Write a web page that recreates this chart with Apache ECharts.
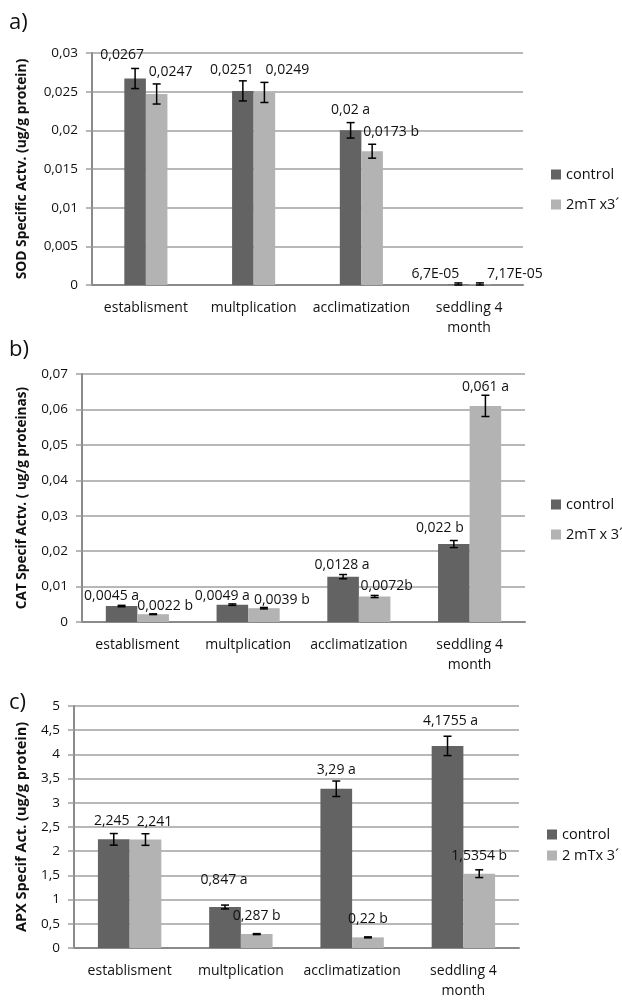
<!DOCTYPE html>
<html>
<head>
<meta charset="utf-8">
<script src="https://cdn.jsdelivr.net/npm/echarts@6/dist/echarts.min.js"></script>
<style>
html,body{margin:0;padding:0;background:#fff;}
#chart{width:622px;height:1001px;}
</style>
</head>
<body>
<div id="chart"></div>
<script>
// ---------------- DATA ----------------
const categories = ['establisment', 'multplication', 'acclimatization', 'seddling 4 month'];

// a) SOD
const sodControl = [0.0267, 0.0251, 0.02, 0.000067];
const sodTreated = [0.0247, 0.0249, 0.0173, 0.0000717];
const sodControlErr = [0.0013, 0.0013, 0.001, 0.0002];
const sodTreatedErr = [0.0013, 0.0013, 0.0009, 0.0002];
const sodControlLabels = ['0,0267', '0,0251', '0,02 a', '6,7E-05'];
const sodTreatedLabels = ['0,0247', '0,0249', '0,0173 b', '7,17E-05'];
const sodTicks = ['0', '0,005', '0,01', '0,015', '0,02', '0,025', '0,03'];

// b) CAT
const catControl = [0.0045, 0.0049, 0.0128, 0.022];
const catTreated = [0.0022, 0.0039, 0.0072, 0.061];
const catControlErr = [0.0002, 0.0002, 0.0006, 0.001];
const catTreatedErr = [0.0001, 0.0002, 0.0003, 0.003];
const catControlLabels = ['0,0045 a', '0,0049 a', '0,0128 a', '0,022 b'];
const catTreatedLabels = ['0,0022 b', '0,0039 b', '0,0072b', '0,061 a'];
const catTicks = ['0', '0,01', '0,02', '0,03', '0,04', '0,05', '0,06', '0,07'];

// c) APX
const apxControl = [2.245, 0.847, 3.29, 4.1755];
const apxTreated = [2.241, 0.287, 0.22, 1.5354];
const apxControlErr = [0.12, 0.04, 0.16, 0.2];
const apxTreatedErr = [0.12, 0.01, 0.01, 0.08];
const apxControlLabels = ['2,245', '0,847 a', '3,29 a', '4,1755 a'];
const apxTreatedLabels = ['2,241', '0,287 b', '0,22 b', '1,5354 b'];
const apxTicks = ['0', '0,5', '1', '1,5', '2', '2,5', '3', '3,5', '4', '4,5', '5'];

const seriesNames = [
  ['control', '2mT x3\u00B4'],
  ['control', '2mT x 3\u00B4'],
  ['control', '2 mTx 3\u00B4']
];
const axisTitles = [
  'SOD Specific Actv. (ug/g protein)',
  'CAT Specif Actv. ( ug/g proteinas)',
  'APX Specif Act. (ug/g protein)'
];
const panelLetters = ['a)', 'b)', 'c)'];

// ---------------- LAYOUT / STYLE ----------------
const FONT = '"Open Sans", sans-serif';
const TXT = '#111';
const COL_CONTROL = '#636363';
const COL_TREATED = '#b3b3b3';
const GRID_COL = '#a0a0a0';

const panels = [
  {
    grid: {left: 92, top: 53, width: 431, height: 232},
    max: 0.03, interval: 0.005, ticks: sodTicks,
    control: sodControl, treated: sodTreated,
    cErr: sodControlErr, tErr: sodTreatedErr,
    cLab: sodControlLabels, tLab: sodTreatedLabels,
    gapPct: 60, nameGap: 63, titleSize: 13.8,
    cShift: [[-13, -23.5], [-11, -21], [0, -20], [-23, -10]],
    tShift: [[14, -22], [23, -22.5], [19, -19], [35, -10]],
    legendTop: 167, legendLeft: 551, legendGap: 15,
    letterTop: 12
  },
  {
    grid: {left: 82, top: 374, width: 443, height: 248},
    max: 0.07, interval: 0.01, ticks: catTicks,
    control: catControl, treated: catTreated,
    cErr: catControlErr, tErr: catTreatedErr,
    cLab: catControlLabels, tLab: catTreatedLabels,
    gapPct: 43, nameGap: 53, titleSize: 13.6,
    cShift: [[-10, -10], [-10, -9], [-1, -12], [-14, -16]],
    tShift: [[12, -8], [18, -8], [12, -10], [0, -19]],
    legendTop: 497, legendLeft: 551, legendGap: 15,
    letterTop: 339
  },
  {
    grid: {left: 74, top: 706, width: 445, height: 245},
    max: 5, interval: 0.5, ticks: apxTicks,
    control: apxControl, treated: apxTreated,
    cErr: apxControlErr, tErr: apxTreatedErr,
    cLab: apxControlLabels, tLab: apxTreatedLabels,
    gapPct: 43, nameGap: 45, titleSize: 14.5,
    cShift: [[-2, -18], [-1, -27], [0, -19], [3, -25]],
    tShift: [[9, -18], [0, -18], [0, -18.5], [0, -18]],
    legendTop: 827, legendLeft: 547, legendGap: 6,
    letterTop: 692
  }
];

const option = {
  animation: false,
  backgroundColor: '#fff',
  textStyle: {fontFamily: FONT},
  title: [],
  legend: [],
  grid: [],
  xAxis: [],
  yAxis: [],
  series: []
};

function errorSeries(p, idx, vals, errs, sideSign) {
  const barFrac = (1 - p.gapPct / 100) / 2;
  const shift = sideSign * barFrac / 2;
  return {
    type: 'custom',
    xAxisIndex: idx, yAxisIndex: idx,
    z: 5,
    silent: true,
    data: vals.map((v, i) => [i, v, errs[i]]),
    encode: {x: 0, y: 1},
    renderItem: function (params, api) {
      const i = api.value(0), v = api.value(1), e = api.value(2);
      const band = api.size([1, 0])[0];
      const x = api.coord([i, v])[0] + shift * band;
      const yT = api.coord([i, v + e])[1];
      const yB = api.coord([i, Math.max(0, v - e)])[1];
      const hw = 4;
      const st = {stroke: '#000', lineWidth: 1.5};
      return {
        type: 'group',
        children: [
          {type: 'line', shape: {x1: x, y1: yT, x2: x, y2: yB}, style: st},
          {type: 'line', shape: {x1: x - hw, y1: yT, x2: x + hw, y2: yT}, style: st},
          {type: 'line', shape: {x1: x - hw, y1: yB, x2: x + hw, y2: yB}, style: st}
        ]
      };
    }
  };
}

function barSeries(p, idx, name, vals, labels, shifts, color) {
  return {
    type: 'bar',
    name: name,
    xAxisIndex: idx, yAxisIndex: idx,
    barGap: '0%',
    barCategoryGap: p.gapPct + '%',
    itemStyle: {color: color},
    z: 2,
    data: vals.map((v, i) => ({
      value: v,
      label: {offset: shifts[i]}
    })),
    label: {
      show: true,
      position: 'top',
      distance: 0,
      align: 'center',
      verticalAlign: 'middle',
      fontFamily: FONT,
      fontSize: 14,
      color: TXT,
      formatter: (prm) => labels[prm.dataIndex]
    }
  };
}

panels.forEach((p, idx) => {
  option.title.push({
    text: panelLetters[idx], left: 9, top: p.letterTop, padding: 0,
    textStyle: {fontFamily: FONT, fontSize: 22, fontWeight: 'normal', color: TXT}
  });
  option.grid.push(Object.assign({containLabel: false}, p.grid));
  option.xAxis.push({
    type: 'category', gridIndex: idx, data: categories,
    axisLine: {show: true, lineStyle: {color: '#8a8a8a', width: 2}},
    axisTick: {show: false},
    axisLabel: {
      fontFamily: FONT, fontSize: 14, color: TXT, margin: 13, lineHeight: 20,
      interval: 0,
      formatter: (v) => v.replace(' month', '\nmonth')
    },
    splitLine: {show: false}
  });
  option.yAxis.push({
    type: 'value', gridIndex: idx, min: 0, max: p.max, interval: p.interval,
    name: axisTitles[idx], nameLocation: 'middle', nameRotate: 90, nameGap: p.nameGap,
    nameTextStyle: {fontFamily: FONT, fontSize: p.titleSize, fontWeight: 'bold', color: TXT},
    axisLine: {show: true, lineStyle: {color: '#8a8a8a', width: 2}},
    axisTick: {show: true, length: 6, lineStyle: {color: GRID_COL, width: 1.5}},
    axisLabel: {
      fontFamily: FONT, fontSize: 13.5, color: TXT, margin: 14,
      formatter: (v) => p.ticks[Math.round(v / p.interval)]
    },
    splitLine: {show: true, lineStyle: {color: GRID_COL, width: 1.5}}
  });
  option.legend.push({
    orient: 'vertical', left: p.legendLeft, top: p.legendTop, itemGap: p.legendGap,
    icon: 'rect', itemWidth: 10, itemHeight: 10, itemStyle: {borderWidth: 0},
    textStyle: {fontFamily: FONT, fontSize: 14.5, color: TXT},
    padding: 0,
    selectedMode: false,
    data: seriesNames[idx]
  });
  option.series.push(barSeries(p, idx, seriesNames[idx][0], p.control, p.cLab, p.cShift, COL_CONTROL));
  option.series.push(barSeries(p, idx, seriesNames[idx][1], p.treated, p.tLab, p.tShift, COL_TREATED));
  option.series.push(errorSeries(p, idx, p.control, p.cErr, -1));
  option.series.push(errorSeries(p, idx, p.treated, p.tErr, 1));
});

const chart = echarts.init(document.getElementById('chart'), null, {renderer: 'canvas'});
chart.setOption(option);
</script>
</body>
</html>
